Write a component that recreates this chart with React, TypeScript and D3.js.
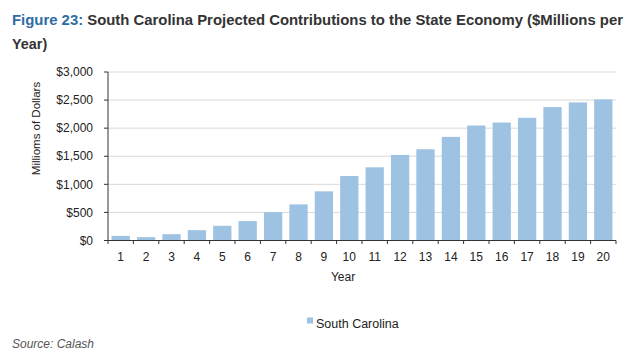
import React from "react";
import * as d3 from "d3";

const years = ["1","2","3","4","5","6","7","8","9","10","11","12","13","14","15","16","17","18","19","20"];
const southCarolina = [82, 59, 112, 184, 262, 345, 505, 643, 875, 1148, 1303, 1523, 1625, 1845, 2047, 2100, 2184, 2375, 2458, 2512];
const yTicks = [0, 500, 1000, 1500, 2000, 2500, 3000];
const seriesName = "South Carolina";
const titlePrefix = "Figure 23:";
const titleLine1 = " South Carolina Projected Contributions to the State Economy ($Millions per";
const titleLine2 = "Year)";
const yLabel = "Millioms of Dollars";
const xLabel = "Year";
const source = "Source: Calash";

const W = 643, H = 361;
const left = 108, right = 616, top = 72, bottom = 240.5;
const font = "'Liberation Sans', Arial, sans-serif";
const barColor = "#9DC2E2";
const axisColor = "#333";

export default function App() {
  const x = d3.scaleBand<string>().domain(years).range([left, right]).paddingInner(0.28).paddingOuter(0.14);
  const y = d3.scaleLinear().domain([0, 3000]).range([bottom, top]);
  const fmt = (v: number) => "$" + d3.format(",")(v);
  const step = x.step();
  const boundaries = d3.range(years.length + 1).map((i) => left + i * step);

  return (
    <svg width={W} height={H} style={{ position: "absolute", left: 0, top: 0, background: "#fff" }} fontFamily={font}>
      <text x={12} y={25} fontSize={14.4} fontWeight="bold" fill="#333" textLength={611} lengthAdjust="spacingAndGlyphs">
        <tspan fill="#2E6DA4">{titlePrefix}</tspan>
        <tspan>{titleLine1}</tspan>
      </text>
      <text x={12} y={48.5} fontSize={14.4} fontWeight="bold" fill="#333">{titleLine2}</text>

      {yTicks.map((t) => (
        <g key={t}>
          {t > 0 && <line x1={left} x2={right} y1={y(t)} y2={y(t)} stroke="#d9d9d9" strokeWidth={1} />}
          <line x1={left - 4} x2={left} y1={y(t)} y2={y(t)} stroke={axisColor} strokeWidth={1} />
          <text x={93} y={y(t)} dy="0.35em" textAnchor="end" fontSize={12} fill="#222">{fmt(t)}</text>
        </g>
      ))}

      {years.map((yr, i) => (
        <rect key={yr} x={x(yr)} y={y(southCarolina[i])} width={x.bandwidth()} height={bottom - y(southCarolina[i])} fill={barColor} />
      ))}

      <line x1={left} x2={left} y1={top} y2={bottom} stroke={axisColor} strokeWidth={1} />
      <line x1={left} x2={right} y1={bottom} y2={bottom} stroke={axisColor} strokeWidth={1} />
      {boundaries.map((b, i) => (
        <line key={i} x1={b} x2={b} y1={bottom} y2={bottom + 3.5} stroke={axisColor} strokeWidth={1} />
      ))}
      {years.map((yr) => (
        <text key={yr} x={(x(yr) as number) + x.bandwidth() / 2} y={261} textAnchor="middle" fontSize={12} fill="#222">{yr}</text>
      ))}

      <text x={343} y={281} textAnchor="middle" fontSize={12} fill="#222">{xLabel}</text>
      <text transform={`translate(39.5,128.5) rotate(-90)`} textAnchor="middle" fontSize={11.5} fill="#222">{yLabel}</text>

      <rect x={307} y={317.5} width={6} height={6} fill={barColor} />
      <text x={316} y={327.5} fontSize={12.5} fill="#222">{seriesName}</text>

      <text x={12} y={348} fontSize={12} fontStyle="italic" fill="#555">{source}</text>
    </svg>
  );
}
